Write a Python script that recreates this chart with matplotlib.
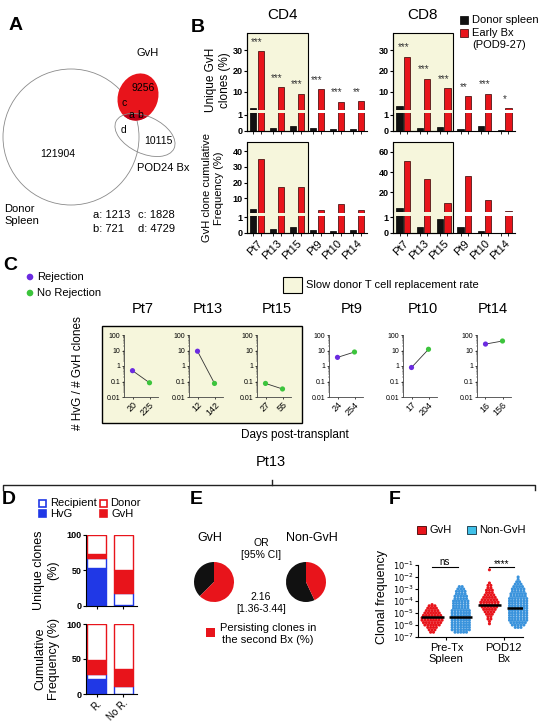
import numpy as np
import matplotlib
matplotlib.use('Agg')
import matplotlib.pyplot as plt
from matplotlib.patches import Circle, Ellipse, Rectangle
from matplotlib.ticker import LogLocator, NullFormatter, FixedLocator

plt.rcParams['font.family'] = ['Liberation Sans', 'DejaVu Sans']
plt.rcParams['axes.linewidth'] = 0.8
plt.rcParams['xtick.major.width'] = 0.8
plt.rcParams['ytick.major.width'] = 0.8
plt.rcParams['xtick.major.size'] = 2
plt.rcParams['ytick.major.size'] = 2

# ---------------- data ----------------
# A: venn counts
venn_gvh, venn_spleen, venn_pod24 = 9256, 121904, 10115
venn_a, venn_b, venn_c, venn_d = 1213, 721, 1828, 4729

# B: GvH clones per patient
patients = ['Pt7', 'Pt13', 'Pt15', 'Pt9', 'Pt10', 'Pt14']
cd4_unique_spleen = [2.2, 0.2, 0.3, 0.2, 0.15, 0.1]
cd4_unique_bx = [29.5, 12.0, 9.0, 11.0, 5.1, 5.2]
cd8_unique_spleen = [3.1, 0.2, 0.25, 0.1, 0.3, 0.05]
cd8_unique_bx = [26.7, 16.2, 11.5, 7.6, 8.9, 1.8]
cd4_cum_spleen = [3.2, 0.25, 0.35, 0.2, 0.15, 0.2]
cd4_cum_bx = [34.9, 17.4, 17.4, 2.6, 6.4, 2.6]
cd8_cum_spleen = [5.0, 0.35, 0.9, 0.35, 0.1, 0.02]
cd8_cum_bx = [51.0, 32.8, 9.8, 36.0, 13.0, 1.7]
cd4_stars = ['***', '***', '***', '***', '***', '**']
cd8_stars = ['***', '***', '***', '**', '***', '*']

# C: HvG/GvH ratio over time
c_days = [[20, 225], [12, 142], [27, 55], [24, 254], [17, 204], [16, 156]]
c_ratio = [[0.5, 0.083], [9.0, 0.075], [0.075, 0.033], [3.6, 8.0], [0.8, 12.0], [26.0, 41.0]]
c_rejection = [[1, 0], [1, 0], [0, 0], [1, 0], [1, 0], [1, 0]]

# D: Pt13 clone composition (%)
d_groups = ['R.', 'No R.']
unique_hvg = [53, 1.5]
unique_recip = [14, 17]
unique_gvh = [5.5, 31.5]
unique_donor = [27.5, 50]
cum_hvg = [21, 0.5]
cum_recip = [7, 10.5]
cum_gvh = [20, 24.5]
cum_donor = [52, 64.5]

# E: persisting clones (%)
persist_gvh = 62.5
persist_nongvh = 43.0

# F: clonal frequency (log10 rows, number of clones per row)
gvh_pre_rows = [-6.6, -6.4, -6.2, -6.0, -5.8, -5.6, -5.4, -5.2, -5.0, -4.8, -4.6, -4.4, -4.3]
gvh_pre_counts = [2, 3, 4, 6, 7, 8, 8, 7, 6, 5, 4, 3, 1]
non_pre_rows = [-6.6, -6.4, -6.2, -6.0, -5.8, -5.6, -5.4, -5.2, -5.0, -4.8,
                -4.6, -4.4, -4.2, -4.0, -3.8, -3.6, -3.4, -3.2, -3.0, -2.8]
non_pre_counts = [5, 7, 7, 7, 7, 7, 7, 7, 7, 7, 6, 6, 6, 6, 5, 5, 4, 4, 3, 2]
gvh_pod_rows = [-5.9, -5.7, -5.5, -5.3, -5.1, -4.9, -4.7, -4.5, -4.3, -4.1,
                -3.9, -3.7, -3.5, -3.3, -3.1, -2.9, -2.7, -2.5, -1.4]
gvh_pod_counts = [1, 1, 2, 2, 3, 4, 5, 6, 7, 7, 6, 5, 4, 3, 3, 2, 2, 1, 1]
non_pod_rows = [-6.2, -6.0, -5.8, -5.6, -5.4, -5.2, -5.0, -4.8, -4.6, -4.4, -4.2,
                -4.0, -3.8, -3.6, -3.4, -3.2, -3.0, -2.8, -2.6, -2.4, -2.2, -2.0]
non_pod_counts = [3, 5, 6, 7, 7, 7, 7, 7, 7, 7, 7, 7, 7, 6, 6, 5, 5, 4, 3, 2, 1, 1]
f_medians = [-5.33, -5.35, -4.3, -4.6]

RED = '#e8141b'
BLUE = '#2038e6'
PURPLE = '#6b2be0'
GREEN = '#3cc43c'
YELLOW = '#f6f6dc'
DOTBLUE = '#3a93dc'

W, H = 541, 723
fig = plt.figure(figsize=(W / 100, H / 100), dpi=100)


def box(l, t, r, b):
    return [l / W, 1 - b / H, (r - l) / W, (b - t) / H]


def T(x, y, s, size=7, ha='center', va='center', **kw):
    fig.text(x / W, 1 - y / H, s, fontsize=size, ha=ha, va=va, **kw)


bg = fig.add_axes([0, 0, 1, 1], zorder=-5)
bg.set_xlim(0, W)
bg.set_ylim(H, 0)
bg.axis('off')

# ---------------- panel letters ----------------
for lab, x, y in [('A', 16, 26), ('B', 198, 27), ('C', 10, 266),
                  ('D', 9, 499), ('E', 196, 499), ('F', 395, 499)]:
    T(x, y, lab, size=14, weight='bold')

# ---------------- A: venn ----------------
bg.add_patch(Circle((71, 137), 68, fill=False, ec='#8a8a8a', lw=0.6))
gv = Ellipse((138, 97), 40, 48, angle=20, fc=RED, ec='none')
bg.add_patch(gv)
pod_fill = Ellipse((145, 135), 64, 37, angle=25, fc='#c00018', ec='none')
bg.add_patch(pod_fill)
pod_fill.set_clip_path(gv)
bg.add_patch(Ellipse((145, 135), 64, 37, angle=25, fill=False, ec='#8a8a8a', lw=0.6))
T(148, 53, 'GvH', 8)
T(143, 88, str(venn_gvh), 7.5)
T(124, 103, 'c', 7.5)
T(131, 115, 'a', 7.5)
T(140, 115, 'b', 7.5)
T(124, 130, 'd', 7.5)
T(158, 141, str(venn_pod24), 7.5)
T(58, 154, str(venn_spleen), 7.5)
T(137, 168, 'POD24 Bx', 8, ha='left')
T(4, 215, 'Donor\nSpleen', 8, ha='left', linespacing=1.3)
T(93, 215, 'a: %d' % venn_a, 8, ha='left')
T(138, 215, 'c: %d' % venn_c, 8, ha='left')
T(93, 229, 'b: %d' % venn_b, 8, ha='left')
T(138, 229, 'd: %d' % venn_d, 8, ha='left')

# ---------------- B: broken-axis bars ----------------
def bar_pair(ax, blk, red):
    x = np.arange(len(patients))
    ax.bar(x - 0.18, blk, 0.3, color='#111111', ec='black', lw=0.5)
    ax.bar(x + 0.18, red, 0.3, color=RED, ec='#300000', lw=0.5)
    ax.set_xlim(-0.5, 5.5)
    ax.set_facecolor('none')
    ax.spines['top'].set_visible(False)
    ax.spines['right'].set_visible(False)
    ax.tick_params(labelsize=6.5, pad=1)


def broken(l, r, t, mid_up, mid_lo, b, up_lim, up_ticks, blk, red, stars, labels):
    up = fig.add_axes(box(l, t, r, mid_up))
    lo = fig.add_axes(box(l, mid_lo, r, b))
    bar_pair(up, blk, red)
    bar_pair(lo, blk, red)
    up.set_ylim(*up_lim)
    up.set_yticks(up_ticks)
    up.spines['bottom'].set_visible(False)
    up.tick_params(axis='x', length=0, labelbottom=False)
    for t_ in up.get_yticklabels():
        t_.set_fontweight('bold')
    lo.set_ylim(0, 1.1)
    lo.set_yticks([0, 1])
    for t_ in lo.get_yticklabels():
        t_.set_fontweight('bold')
    x = np.arange(len(patients))
    lo.set_xticks(x)
    lo.set_xticks(np.concatenate([x - 0.18, x + 0.18]), minor=True)
    lo.tick_params(axis='x', which='major', length=0)
    lo.tick_params(axis='x', which='minor', length=2, width=0.6)
    if labels:
        lo.set_xticklabels(patients, rotation=45, ha='right', rotation_mode='anchor', fontsize=8)
        lo.tick_params(axis='x', which='major', pad=4)
    else:
        lo.set_xticklabels([])
    if stars:
        for i, s in enumerate(stars):
            up.annotate(s, (i, max(red[i], up_lim[0])), xytext=(0, 7), textcoords='offset points',
                        ha='center', va='center', fontsize=7, color='#333333')
    return up, lo


broken(247, 367, 33, 110, 113.4, 131, (1, 38.5), [10, 20, 30],
       cd4_unique_spleen, cd4_unique_bx, cd4_stars, False)
broken(393, 515, 33, 110, 113.4, 131, (1, 38.5), [10, 20, 30],
       cd8_unique_spleen, cd8_unique_bx, cd8_stars, False)
broken(247, 367, 141.7, 212.5, 215.7, 233, (1, 46), [10, 20, 30, 40],
       cd4_cum_spleen, cd4_cum_bx, None, True)
broken(393, 515, 141.7, 211.7, 215.7, 233, (1, 70), [20, 40, 60],
       cd8_cum_spleen, cd8_cum_bx, None, True)

for (l, t, r, b) in [(247, 33, 308, 131), (247, 141.7, 308, 233),
                     (393, 33, 453, 131), (393, 141.7, 453, 233)]:
    bg.add_patch(Rectangle((l, t), r - l, b - t, fc=YELLOW, ec='black', lw=0.8))

T(283, 15, 'CD4', 11)
T(423, 15, 'CD8', 11)
T(218, 80, 'Unique GvH\nclones (%)', 8.5, rotation=90, multialignment='center')
T(213, 188, 'GvH clone cumulative\nFrequency (%)', 8, rotation=90, multialignment='center')
bg.add_patch(Rectangle((460, 16), 8, 8, fc='#111111', ec='black', lw=0.5))
bg.add_patch(Rectangle((460, 29), 8, 8, fc=RED, ec='#300000', lw=0.5))
T(472, 20, 'Donor spleen', 8, ha='left')
T(472, 39, 'Early Bx\n(POD9-27)', 8, ha='left', linespacing=1.2)

# ---------------- C: ratio over time ----------------
bg.add_patch(Circle((30, 277), 3.3, fc=PURPLE, ec='none'))
bg.add_patch(Circle((30, 293), 3.3, fc=GREEN, ec='none'))
T(37, 277, 'Rejection', 8, ha='left')
T(37, 293, 'No Rejection', 8, ha='left')
bg.add_patch(Rectangle((283, 277), 19, 16, fc=YELLOW, ec='black', lw=0.8))
T(306, 285, 'Slow donor T cell replacement rate', 8, ha='left')
bg.add_patch(Rectangle((102, 326), 200, 97, fc=YELLOW, ec='black', lw=1.0))

c_x0 = [124, 189, 257, 329, 403, 477]
c_title_x = [143, 208, 277, 352, 423, 493]
for i, x0 in enumerate(c_x0):
    ax = fig.add_axes(box(x0, 335, x0 + 34, 397))
    ax.set_facecolor('none')
    ax.set_yscale('log')
    ax.set_ylim(0.01, 100)
    ax.set_xlim(-0.5, 1.5)
    ax.plot([0, 1], c_ratio[i], color='#333333', lw=0.6, zorder=2)
    cols = [PURPLE if r else GREEN for r in c_rejection[i]]
    ax.scatter([0, 1], c_ratio[i], c=cols, s=14, zorder=3, clip_on=False, linewidths=0)
    ax.spines['top'].set_visible(False)
    ax.spines['right'].set_visible(False)
    for sp in ('left', 'bottom'):
        ax.spines[sp].set_linewidth(0.6)
        ax.spines[sp].set_color('#444444')
    ax.set_yticks([0.01, 0.1, 1, 10, 100])
    ax.set_yticklabels(['0.01', '0.1', '1', '10', '100'])
    ax.yaxis.set_minor_locator(LogLocator(base=10, subs=np.arange(2, 10)))
    ax.yaxis.set_minor_formatter(NullFormatter())
    ax.tick_params(axis='y', which='major', labelsize=5, length=1.5, width=0.5, pad=1)
    ax.tick_params(axis='y', which='minor', length=0.8, width=0.3)
    ax.set_xticks([0, 1])
    ax.set_xticklabels([str(d) for d in c_days[i]], rotation=45, ha='right',
                       rotation_mode='anchor', fontsize=6.5)
    ax.tick_params(axis='x', length=1.5, width=0.5, pad=1)
    T(c_title_x[i], 309, patients[i], 10.5)
T(78, 373, '# HvG / # GvH clones', 8.5, rotation=90)
T(295, 435, 'Days post-transplant', 8.5)

# bracket for Pt13
bg.plot([3, 3, 535, 535], [490, 485, 485, 490], color='#222222', lw=1)
bg.plot([272, 272], [485, 480], color='#222222', lw=1)
T(271, 462, 'Pt13', 10.5)

# ---------------- D: stacked composition ----------------
def stacked(ax, layers):
    x = np.arange(len(d_groups))
    bottom = np.zeros(len(d_groups))
    styles = [(BLUE, BLUE), ('white', BLUE), (RED, RED), ('white', RED)]
    for vals, (fc, ec) in zip(layers, styles):
        ax.bar(x, vals, 0.72, bottom=bottom, color=fc, ec=ec, lw=1)
        bottom += np.array(vals)
    ax.set_xlim(-0.4, 1.52)
    ax.set_ylim(0, 100)
    ax.set_yticks([0, 50, 100])
    ax.set_xticks(x)
    ax.spines['top'].set_visible(False)
    ax.spines['right'].set_visible(False)
    ax.tick_params(labelsize=6.5, pad=1)
    for t in ax.get_yticklabels():
        t.set_fontweight('bold')


dtop = fig.add_axes(box(86, 535, 137, 605.7))
stacked(dtop, [unique_hvg, unique_recip, unique_gvh, unique_donor])
dtop.set_xticklabels([])
dbot = fig.add_axes(box(86, 624, 137, 694))
stacked(dbot, [cum_hvg, cum_recip, cum_gvh, cum_donor])
dbot.set_xticklabels(d_groups, rotation=45, ha='right', rotation_mode='anchor', fontsize=7)
dbot.tick_params(axis='x', pad=1)
T(46, 570, 'Unique clones\n(%)', 9, rotation=90, multialignment='center')
T(47, 659, 'Cumulative\nFrequency (%)', 9, rotation=90, multialignment='center')
bg.add_patch(Rectangle((39, 500), 7, 7, fc='white', ec=BLUE, lw=1.2))
bg.add_patch(Rectangle((39, 510), 7, 7, fc=BLUE, ec=BLUE, lw=1.2))
bg.add_patch(Rectangle((100, 500), 7, 7, fc='white', ec=RED, lw=1.2))
bg.add_patch(Rectangle((100, 510), 7, 7, fc=RED, ec=RED, lw=1.2))
T(50, 503, 'Recipient', 8, ha='left')
T(50, 514, 'HvG', 8, ha='left')
T(110, 503, 'Donor', 8, ha='left')
T(112, 514, 'GvH', 8, ha='left')

# ---------------- E: pies ----------------
for cx, val in [(214, persist_gvh), (306, persist_nongvh)]:
    pa = fig.add_axes(box(cx - 20, 562, cx + 20, 602))
    pa.pie([100 - val, val], colors=['#111111', RED], startangle=90, counterclock=True,
           wedgeprops=dict(lw=0))
    pa.set_xlim(-1, 1)
    pa.set_ylim(-1, 1)
T(210, 538, 'GvH', 9)
T(312, 538, 'Non-GvH', 9)
T(261, 549, 'OR\n[95% CI]', 7.5, multialignment='center', linespacing=1.3)
T(261, 603, '2.16\n[1.36-3.44]', 7.5, multialignment='center', linespacing=1.3)
bg.add_patch(Rectangle((206, 628), 9, 9, fc=RED, ec='none'))
T(268, 634, 'Persisting clones in\nthe second Bx (%)', 8, multialignment='center', linespacing=1.3)

# ---------------- F: clonal frequency ----------------
fa = fig.add_axes(box(418, 565, 523, 637))
fa.set_facecolor('none')
fa.set_yscale('log')
fa.set_ylim(1e-7, 1e-1)
fa.set_xlim(-0.49, 3.17)


def swarm(ax, xc, rows, counts, color):
    xs, ys = [], []
    for r, n in zip(rows, counts):
        off = (np.arange(n) - (n - 1) / 2) * 0.1
        xs += list(xc + off)
        ys += [10 ** r] * n
    ax.scatter(xs, ys, s=5, c=color, edgecolors='none', clip_on=False, zorder=3)


groups_f = [(gvh_pre_rows, gvh_pre_counts, RED), (non_pre_rows, non_pre_counts, DOTBLUE),
            (gvh_pod_rows, gvh_pod_counts, RED), (non_pod_rows, non_pod_counts, DOTBLUE)]
for i, (rows, counts, col) in enumerate(groups_f):
    swarm(fa, i, rows, counts, col)
    fa.plot([i - 0.4, i + 0.4], [10 ** f_medians[i]] * 2, color='black', lw=1.8, zorder=4,
            solid_capstyle='butt')
fa.spines['top'].set_visible(False)
fa.spines['right'].set_visible(False)
fa.set_yticks([10.0 ** k for k in range(-7, 0)])
fa.set_yticklabels(['$10^{%d}$' % k for k in range(-7, 0)])
fa.yaxis.set_minor_locator(FixedLocator([]))
fa.set_xticks([0.5, 2.5])
fa.set_xticklabels(['Pre-Tx\nSpleen', 'POD12\nBx'], fontsize=8)
fa.tick_params(axis='y', labelsize=6, pad=1)
fa.tick_params(axis='x', pad=2)
fa.plot([0, 0.9], [10 ** -1.2] * 2, color='black', lw=0.8, clip_on=False)
fa.plot([2, 2.85], [10 ** -1.2] * 2, color='black', lw=0.8, clip_on=False)
fa.text(0.45, 10 ** -1.15, 'ns', ha='center', va='bottom', fontsize=7)
fa.text(2.42, 10 ** -1.35, '****', ha='center', va='bottom', fontsize=7)
T(382, 597, 'Clonal frequency', 9, rotation=90)
bg.add_patch(Rectangle((417, 526), 9, 8, fc=RED, ec='#400000', lw=0.6))
bg.add_patch(Rectangle((467, 526), 9, 8, fc='#40c0e8', ec='#103040', lw=0.6))
T(429, 530, 'GvH', 8, ha='left')
T(479, 530, 'Non-GvH', 8, ha='left')

fig.savefig('out.png', dpi=100)
